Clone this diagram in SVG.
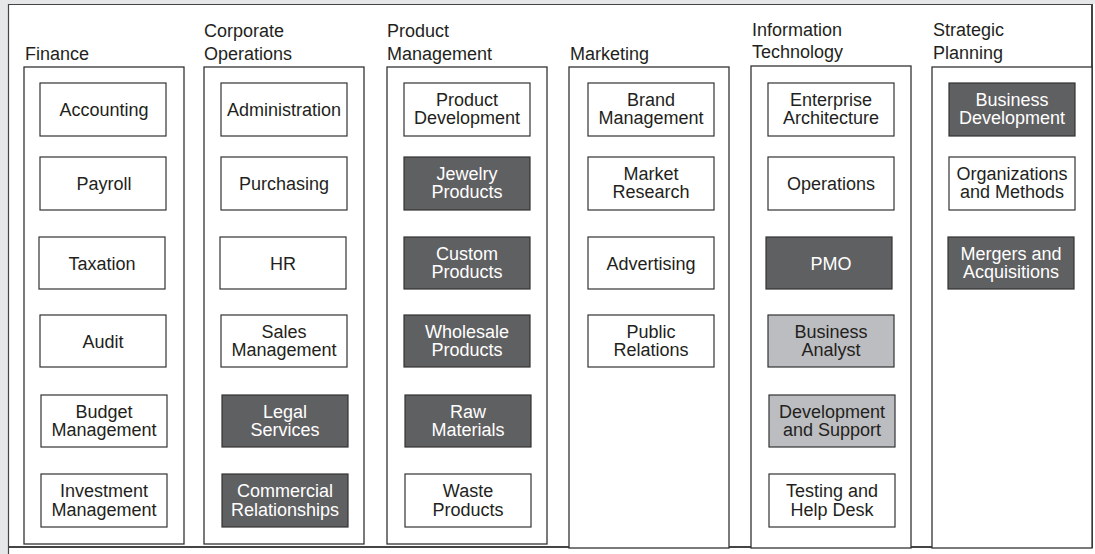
<svg xmlns="http://www.w3.org/2000/svg" width="1095" height="554" viewBox="0 0 1095 554">
<style>
text{font-family:"Liberation Sans",Arial,Helvetica,sans-serif;font-size:18px;fill:#231f20}
.col{fill:#fff;stroke:#333;stroke-width:1.3}
.b{fill:#fff;stroke:#333;stroke-width:1.2}
.d{fill:#5f6062;stroke:#333;stroke-width:1.2}
.l{fill:#bcbdc0;stroke:#333;stroke-width:1.2}
.m{text-anchor:middle}
.w{fill:#fff}
.frame{stroke:#444;fill:none}
</style>
<rect x="0" y="0" width="1095" height="554" fill="#fff"/>
<rect x="0" y="0" width="1095" height="4" fill="#e6e7e8"/>
<rect x="0" y="0" width="8" height="554" fill="#e6e7e8"/>
<line class="frame" x1="8.5" y1="4" x2="8.5" y2="554" stroke-width="1.2"/>
<line class="frame" x1="8" y1="4.5" x2="1093" y2="4.5" stroke-width="1.2"/>
<line class="frame" x1="1092" y1="4" x2="1092" y2="547.5" stroke-width="2"/>
<line class="frame" x1="8" y1="547" x2="1093" y2="547" stroke-width="2"/>

<g id="connectors"/>

<g id="finance">
<text x="25" y="60">Finance</text>
<rect class="col" x="24" y="67" width="160" height="477"/>
</g>
<g id="accounting"><rect class="b" x="40" y="83" width="126" height="53"/><text class="m" x="104" y="116">Accounting</text></g>
<g id="payroll"><rect class="b" x="40" y="157" width="126" height="53"/><text class="m" x="104" y="190">Payroll</text></g>
<g id="taxation"><rect class="b" x="39" y="237" width="126" height="52"/><text class="m" x="102" y="269.5">Taxation</text></g>
<g id="audit"><rect class="b" x="40" y="315" width="126" height="52"/><text class="m" x="103" y="347.5">Audit</text></g>
<g id="budget"><rect class="b" x="41" y="395" width="126" height="52"/><text class="m" x="104" y="417.5">Budget</text><text class="m" x="104" y="436">Management</text></g>
<g id="investment"><rect class="b" x="41" y="474" width="126" height="53"/><text class="m" x="104" y="497">Investment</text><text class="m" x="104" y="515.5">Management</text></g>

<g id="corporate">
<text x="204" y="37">Corporate</text><text x="204" y="60">Operations</text>
<rect class="col" x="204" y="67" width="160" height="477"/>
</g>
<g id="administration"><rect class="b" x="221" y="83" width="126" height="53"/><text class="m" x="284" y="116">Administration</text></g>
<g id="purchasing"><rect class="b" x="221" y="157" width="126" height="53"/><text class="m" x="284" y="190">Purchasing</text></g>
<g id="hr"><rect class="b" x="220" y="237" width="126" height="52"/><text class="m" x="283" y="269.5">HR</text></g>
<g id="sales"><rect class="b" x="221" y="315" width="126" height="52"/><text class="m" x="284" y="337.5">Sales</text><text class="m" x="284" y="356">Management</text></g>
<g id="legal"><rect class="d" x="222" y="395" width="126" height="52"/><text class="m w" x="285" y="417.5">Legal</text><text class="m w" x="285" y="436">Services</text></g>
<g id="commercial"><rect class="d" x="222" y="474" width="126" height="53"/><text class="m w" x="285" y="497">Commercial</text><text class="m w" x="285" y="515.5">Relationships</text></g>

<g id="product">
<text x="387" y="37">Product</text><text x="387" y="60">Management</text>
<rect class="col" x="387" y="67" width="160" height="477"/>
</g>
<g id="productdev"><rect class="b" x="404" y="83" width="126" height="53"/><text class="m" x="467" y="105.5">Product</text><text class="m" x="467" y="124">Development</text></g>
<g id="jewelry"><rect class="d" x="404" y="157" width="126" height="53"/><text class="m w" x="467" y="179.5">Jewelry</text><text class="m w" x="467" y="198">Products</text></g>
<g id="custom"><rect class="d" x="404" y="237" width="126" height="52"/><text class="m w" x="467" y="259.5">Custom</text><text class="m w" x="467" y="278">Products</text></g>
<g id="wholesale"><rect class="d" x="404" y="315" width="126" height="52"/><text class="m w" x="467" y="337.5">Wholesale</text><text class="m w" x="467" y="356">Products</text></g>
<g id="raw"><rect class="d" x="405" y="395" width="126" height="52"/><text class="m w" x="468" y="417.5">Raw</text><text class="m w" x="468" y="436">Materials</text></g>
<g id="waste"><rect class="b" x="405" y="474" width="126" height="53"/><text class="m" x="468" y="497">Waste</text><text class="m" x="468" y="515.5">Products</text></g>

<g id="marketing">
<text x="570" y="60">Marketing</text>
<rect class="col" x="569" y="67" width="160" height="481"/>
</g>
<g id="brand"><rect class="b" x="588" y="83" width="126" height="53"/><text class="m" x="651" y="105.5">Brand</text><text class="m" x="651" y="124">Management</text></g>
<g id="research"><rect class="b" x="588" y="157" width="126" height="53"/><text class="m" x="651" y="179.5">Market</text><text class="m" x="651" y="198">Research</text></g>
<g id="advertising"><rect class="b" x="588" y="237" width="126" height="52"/><text class="m" x="651" y="269.5">Advertising</text></g>
<g id="pr"><rect class="b" x="588" y="315" width="126" height="52"/><text class="m" x="651" y="337.5">Public</text><text class="m" x="651" y="356">Relations</text></g>

<g id="it">
<text x="752" y="35.5">Information</text><text x="752" y="58">Technology</text>
<rect class="col" x="751" y="66" width="160" height="482"/>
</g>
<g id="enterprise"><rect class="b" x="768" y="83" width="126" height="53"/><text class="m" x="831" y="105.5">Enterprise</text><text class="m" x="831" y="124">Architecture</text></g>
<g id="operations"><rect class="b" x="768" y="157" width="126" height="53"/><text class="m" x="831" y="190">Operations</text></g>
<g id="pmo"><rect class="d" x="766" y="237" width="126" height="52"/><text class="m w" x="831" y="269.5">PMO</text></g>
<g id="analyst"><rect class="l" x="768" y="315" width="126" height="52"/><text class="m" x="831" y="337.5">Business</text><text class="m" x="831" y="356">Analyst</text></g>
<g id="devsupport"><rect class="l" x="769" y="395" width="126" height="52"/><text class="m" x="832" y="417.5">Development</text><text class="m" x="832" y="436">and Support</text></g>
<g id="testing"><rect class="b" x="769" y="474" width="126" height="53"/><text class="m" x="832" y="497">Testing and</text><text class="m" x="832" y="515.5">Help Desk</text></g>

<g id="strategic">
<text x="933" y="36">Strategic</text><text x="933" y="58.5">Planning</text>
<rect class="col" x="932" y="67" width="160" height="481"/>
</g>
<g id="bizdev"><rect class="d" x="949" y="83" width="126" height="53"/><text class="m w" x="1012" y="105.5">Business</text><text class="m w" x="1012" y="124">Development</text></g>
<g id="orgmethods"><rect class="b" x="949" y="157" width="126" height="53"/><text class="m" x="1012" y="179.5">Organizations</text><text class="m" x="1012" y="198">and Methods</text></g>
<g id="mergers"><rect class="d" x="948" y="237" width="126" height="52"/><text class="m w" x="1011" y="259.5">Mergers and</text><text class="m w" x="1011" y="278">Acquisitions</text></g>
</svg>
